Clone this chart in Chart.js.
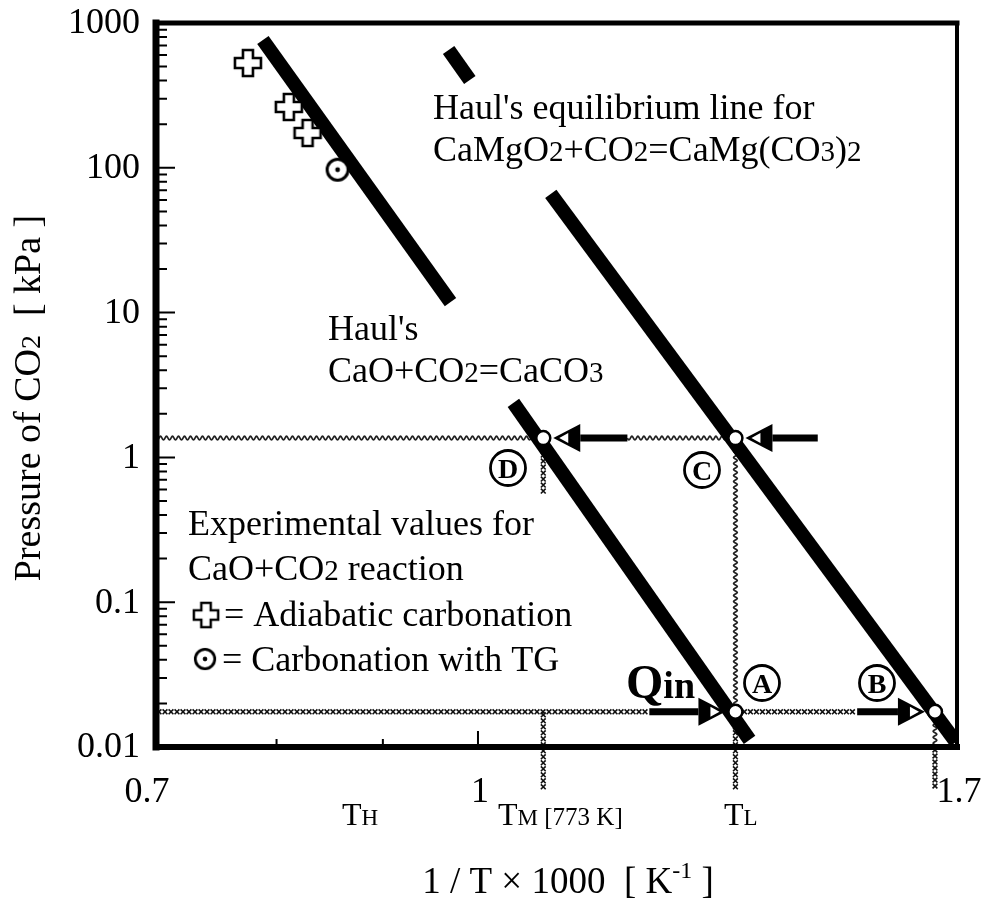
<!DOCTYPE html>
<html>
<head>
<meta charset="utf-8">
<script src="https://cdn.jsdelivr.net/npm/chart.js@4.4.1/dist/chart.umd.min.js"></script>
<style>
  html, body { margin: 0; padding: 0; background: #fff; }
  canvas { display: block; }
</style>
</head>
<body>
<canvas id="chart" width="981" height="901"></canvas>
<script>
// values: x = 1/T*1000 [1/K], y = CO2 pressure [kPa]
const caco3Upper = [{x: 0.788, y: 763}, {x: 0.970, y: 11.8}];
const caco3Lower = [{x: 1.040, y: 2.38}, {x: 1.351, y: 0.0112}];
const camgUpper  = [{x: 0.968, y: 651}, {x: 0.991, y: 404}];
const camgLower  = [{x: 1.084, y: 66}, {x: 1.698, y: 0.0108}];
const adiabatic  = [{x: 0.775, y: 529}, {x: 0.811, y: 263}, {x: 0.828, y: 174}];
const tgPoints   = [{x: 0.856, y: 97}];

// operating points D, C, A, B
const stateNames = ["D", "C", "A", "B"];
const stateX = [1.075, 1.330, 1.330, 1.659];
const stateY = [1.36, 1.36, 0.0175, 0.0175];
const arrowStartX = [1.180, 1.457, 1.209, 1.522];   // thick arrow tails
const guideBottom = 0.005;                          // guides run below the axis

const xTickMinor = [0.8, 0.9];
const xTickMajor = [1];
const xLabelValues = [0.7, 1, 1.7];
const xLabels = ["0.7", "1", "1.7"];
const yDecades = [1000, 100, 10, 1, 0.1, 0.01];
const yLabels = ["1000", "100", "10", "1", "0.1", "0.01"];
const yMinorSteps = [2, 3, 4, 5, 6, 7, 8, 9];

const SERIF = "'Liberation Serif', 'Times New Roman', serif";
const states = stateX.map((x, i) => ({x, y: stateY[i]}));

// hollow plus marker
function makeCross(){
  const c = document.createElement("canvas");
  c.width = c.height = 32;
  const g = c.getContext("2d");
  const m = 16, a = 13, w = 5;
  g.beginPath();
  g.moveTo(m - w, m - a); g.lineTo(m + w, m - a); g.lineTo(m + w, m - w);
  g.lineTo(m + a, m - w); g.lineTo(m + a, m + w); g.lineTo(m + w, m + w);
  g.lineTo(m + w, m + a); g.lineTo(m - w, m + a); g.lineTo(m - w, m + w);
  g.lineTo(m - a, m + w); g.lineTo(m - a, m - w); g.lineTo(m - w, m - w);
  g.closePath();
  g.fillStyle = "#fff"; g.fill();
  g.lineWidth = 2.6; g.strokeStyle = "#000"; g.stroke();
  return c;
}
// circle with a dot marker
function makeDotCircle(){
  const c = document.createElement("canvas");
  c.width = c.height = 28;
  const g = c.getContext("2d");
  g.beginPath(); g.arc(14, 14, 10.5, 0, Math.PI * 2);
  g.fillStyle = "#fff"; g.fill();
  g.lineWidth = 3; g.strokeStyle = "#000"; g.stroke();
  g.beginPath(); g.arc(14, 14, 2.4, 0, Math.PI * 2);
  g.fillStyle = "#000"; g.fill();
  return c;
}
const crossImg = makeCross();
const dotImg = makeDotCircle();

// text made of runs with different sizes (for subscripts like CO2)
function runsWidth(ctx, runs){
  let w = 0;
  runs.forEach(r => { ctx.font = (r[2] || "") + " " + r[1] + "px " + SERIF; w += ctx.measureText(r[0]).width; });
  return w;
}
function drawRuns(ctx, x, y, runs, align){
  let cx = align === "center" ? x - runsWidth(ctx, runs) / 2 : x;
  ctx.textBaseline = "alphabetic";
  ctx.textAlign = "left";
  runs.forEach(r => {
    ctx.font = (r[2] || "") + " " + r[1] + "px " + SERIF;
    ctx.fillText(r[0], cx, y + (r[3] || 0));
    cx += ctx.measureText(r[0]).width;
  });
}

function wavy(ctx, x0, y0, x1, y1){
  const L = Math.hypot(x1 - x0, y1 - y0);
  const ux = (x1 - x0) / L, uy = (y1 - y0) / L;
  ctx.beginPath();
  for (let t = 0; t <= L; t += 0.5){
    const o = 1.8 * Math.sin(t / 6 * Math.PI * 2);
    const px = x0 + ux * t - uy * o, py = y0 + uy * t + ux * o;
    if (t === 0) ctx.moveTo(px, py); else ctx.lineTo(px, py);
  }
  ctx.lineWidth = 1.7; ctx.strokeStyle = "#222"; ctx.stroke();
}
function crossed(ctx, x0, y0, x1, y1){
  const L = Math.hypot(x1 - x0, y1 - y0);
  const ux = (x1 - x0) / L, uy = (y1 - y0) / L;
  ctx.beginPath();
  for (let t = 3; t <= L; t += 6){
    const px = x0 + ux * t, py = y0 + uy * t, s = 2.4;
    ctx.moveTo(px - s, py - s); ctx.lineTo(px + s, py + s);
    ctx.moveTo(px - s, py + s); ctx.lineTo(px + s, py - s);
  }
  ctx.lineWidth = 1.6; ctx.strokeStyle = "#111"; ctx.stroke();
}
function arrow(ctx, xTail, xTip, y){
  const dir = Math.sign(xTip - xTail);
  const base = xTip - dir * 27;
  ctx.beginPath(); ctx.moveTo(xTail, y); ctx.lineTo(base, y);
  ctx.lineWidth = 7; ctx.strokeStyle = "#000"; ctx.stroke();
  ctx.beginPath();
  ctx.moveTo(xTip, y); ctx.lineTo(base, y - 14); ctx.lineTo(base, y + 14); ctx.closePath();
  ctx.fillStyle = "#000"; ctx.fill();
  ctx.beginPath();
  ctx.moveTo(xTip - dir * 6, y); ctx.lineTo(xTip - dir * 15, y - 5); ctx.lineTo(xTip - dir * 15, y + 5); ctx.closePath();
  ctx.fillStyle = "#fff"; ctx.fill();
}
function circledLetter(ctx, x, y, letter){
  ctx.beginPath(); ctx.arc(x, y, 17.5, 0, Math.PI * 2);
  ctx.lineWidth = 2.8; ctx.strokeStyle = "#000"; ctx.stroke();
  ctx.font = "bold 28px " + SERIF;
  ctx.textAlign = "center"; ctx.textBaseline = "alphabetic";
  ctx.fillStyle = "#000";
  ctx.fillText(letter, x, y + 10);
}

const figurePlugin = {
  id: "figure",
  beforeDatasetsDraw(chart){
    const ctx = chart.ctx, xs = chart.scales.x, ys = chart.scales.y;
    const px = v => xs.getPixelForValue(v), py = v => ys.getPixelForValue(v);
    const [d, c, a, b] = [0, 1, 2, 3];
    ctx.save();
    // pressure guide at the high side
    wavy(ctx, xs.left, py(stateY[d]), px(stateX[d]), py(stateY[d]));
    wavy(ctx, px(arrowStartX[d]), py(stateY[c]), px(stateX[c]), py(stateY[c]));
    crossed(ctx, px(stateX[d]), py(stateY[d]) + 8, px(stateX[d]), py(0.55));
    wavy(ctx, px(stateX[c]), py(stateY[c]), px(stateX[a]), py(stateY[a]));
    crossed(ctx, px(stateX[a]), py(stateY[a]), px(stateX[a]), py(guideBottom));
    // pressure guide at the low side
    crossed(ctx, xs.left, py(stateY[a]), px(arrowStartX[a]), py(stateY[a]));
    crossed(ctx, px(stateX[a]), py(stateY[a]), px(arrowStartX[b]), py(stateY[b]));
    crossed(ctx, px(stateX[d]), py(stateY[a]), px(stateX[d]), py(guideBottom));
    wavy(ctx, px(stateX[b]), py(stateY[b]), px(stateX[b]), ys.bottom);
    crossed(ctx, px(stateX[b]), ys.bottom, px(stateX[b]), py(guideBottom));
    ctx.restore();
  },
  afterDatasetsDraw(chart){
    const ctx = chart.ctx, xs = chart.scales.x, ys = chart.scales.y;
    const px = v => xs.getPixelForValue(v), py = v => ys.getPixelForValue(v);
    ctx.save();
    stateX.forEach((sx, i) => {
      const tip = px(sx) + Math.sign(px(arrowStartX[i]) - px(sx)) * 10;
      arrow(ctx, px(arrowStartX[i]), tip, py(stateY[i]));
    });
    ctx.restore();
  },
  afterDraw(chart){
    const ctx = chart.ctx, xs = chart.scales.x, ys = chart.scales.y;
    const L = xs.left, R = xs.right, T = ys.top, B = ys.bottom;
    ctx.save();
    ctx.fillStyle = "#000"; ctx.strokeStyle = "#000";
    // frame
    ctx.lineCap = "square";
    ctx.lineWidth = 5; ctx.beginPath(); ctx.moveTo(L, T); ctx.lineTo(R, T); ctx.stroke();
    ctx.lineWidth = 4; ctx.beginPath(); ctx.moveTo(R, T); ctx.lineTo(R, B); ctx.stroke();
    ctx.lineWidth = 7; ctx.beginPath(); ctx.moveTo(L, T); ctx.lineTo(L, B); ctx.stroke();
    ctx.lineWidth = 6; ctx.beginPath(); ctx.moveTo(L, B); ctx.lineTo(R, B); ctx.stroke();
    // inward ticks
    ctx.lineCap = "butt"; ctx.lineWidth = 2;
    ctx.beginPath();
    yDecades.forEach(v => { const y = ys.getPixelForValue(v); ctx.moveTo(L, y); ctx.lineTo(L + 19, y); });
    yDecades.slice(1).forEach(v => yMinorSteps.forEach(s => {
      const y = ys.getPixelForValue(v * s); ctx.moveTo(L, y); ctx.lineTo(L + 11, y);
    }));
    xTickMajor.forEach(v => { const x = xs.getPixelForValue(v); ctx.moveTo(x, B); ctx.lineTo(x, B - 16); });
    xTickMinor.forEach(v => { const x = xs.getPixelForValue(v); ctx.moveTo(x, B); ctx.lineTo(x, B - 8); });
    ctx.stroke();
    // tick labels
    ctx.font = "36px " + SERIF;
    ctx.textAlign = "right"; ctx.textBaseline = "middle";
    yDecades.forEach((v, i) => ctx.fillText(yLabels[i], L - 16, ys.getPixelForValue(v) + 1));
    ctx.textAlign = "center"; ctx.textBaseline = "alphabetic";
    const xLabelShift = [-9, 2, 2];
    xLabelValues.forEach((v, i) => ctx.fillText(xLabels[i], xs.getPixelForValue(v) + xLabelShift[i], 802));
    // temperature marks
    drawRuns(ctx, 342, 825, [["T", 32], ["H", 23]]);
    drawRuns(ctx, 498, 825, [["T", 32], ["M", 23], [" [773 K]", 25]]);
    drawRuns(ctx, 724, 825, [["T", 32], ["L", 23]]);
    // axis titles
    drawRuns(ctx, 568, 893, [["1 / T \u00d7 1000  [ K", 37], ["-1", 24, "", -15], [" ]", 37]], "center");
    ctx.save();
    ctx.translate(40, 398); ctx.rotate(-Math.PI / 2);
    drawRuns(ctx, 0, 0, [["Pressure of CO", 38], ["2", 28], ["  [ kPa ]", 38]], "center");
    ctx.restore();
    // annotations
    drawRuns(ctx, 433, 119, [["Haul's equilibrium line for", 36]]);
    drawRuns(ctx, 433, 161, [["CaMgO", 36], ["2", 29], ["+CO", 36], ["2", 29], ["=CaMg(CO", 36], ["3", 29], [")", 36], ["2", 29]]);
    drawRuns(ctx, 328, 340, [["Haul's", 36]]);
    drawRuns(ctx, 328, 382, [["CaO+CO", 36], ["2", 29], ["=CaCO", 36], ["3", 29]]);
    drawRuns(ctx, 188, 535, [["Experimental values for", 36]]);
    drawRuns(ctx, 188, 580, [["CaO+CO", 36], ["2", 29], [" reaction", 36]]);
    ctx.drawImage(crossImg, 191, 600, 30, 30);
    drawRuns(ctx, 224, 626, [["= Adiabatic carbonation", 36]]);
    ctx.drawImage(dotImg, 192, 646, 26, 26);
    drawRuns(ctx, 222, 671, [["= Carbonation with TG", 36]]);
    drawRuns(ctx, 626, 698, [["Q", 48, "bold"], ["in", 38, "bold"]]);
    circledLetter(ctx, 508, 468, stateNames[0]);
    circledLetter(ctx, 702, 470, stateNames[1]);
    circledLetter(ctx, 762, 683, stateNames[2]);
    circledLetter(ctx, 877, 683, stateNames[3]);
    ctx.restore();
  }
};

const thick = data => ({
  data, showLine: true, borderColor: "#000", borderWidth: 14,
  borderCapStyle: "butt", pointRadius: 0, pointHoverRadius: 0
});

new Chart(document.getElementById("chart"), {
  type: "scatter",
  data: {
    datasets: [
      { data: states, pointRadius: 7, pointBackgroundColor: "#fff", pointBorderColor: "#000", pointBorderWidth: 2.5 },
      { data: tgPoints, pointStyle: dotImg, pointRadius: 12 },
      { data: adiabatic, pointStyle: crossImg, pointRadius: 15 },
      thick(caco3Upper),
      thick(caco3Lower),
      thick(camgUpper),
      thick(camgLower)
    ]
  },
  options: {
    responsive: false,
    animation: false,
    devicePixelRatio: 1,
    layout: { padding: { top: 23, right: 24, left: 0, bottom: 0 } },
    plugins: { legend: { display: false }, tooltip: { enabled: false } },
    scales: {
      x: {
        type: "logarithmic", min: 0.7, max: 1.7,
        grid: { display: false }, border: { display: false }, ticks: { display: false },
        afterFit(s){ s.height = 154; }
      },
      y: {
        type: "logarithmic", min: 0.01, max: 1000,
        grid: { display: false }, border: { display: false }, ticks: { display: false },
        afterFit(s){ s.width = 156; }
      }
    }
  },
  plugins: [figurePlugin]
});
</script>
</body>
</html>
